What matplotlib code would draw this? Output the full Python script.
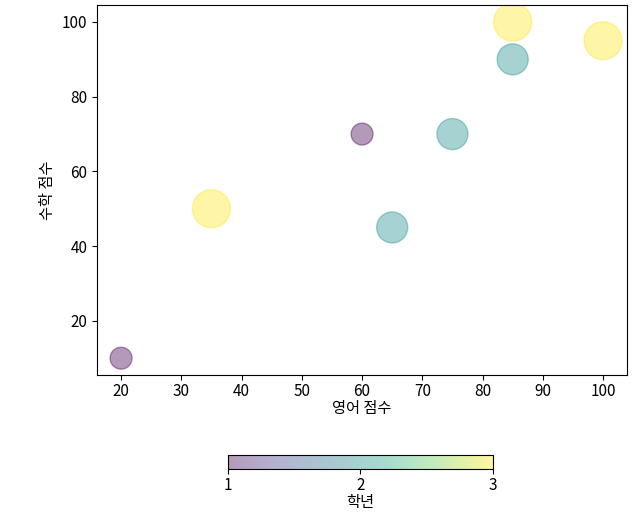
import matplotlib
matplotlib.use("Agg")
import matplotlib.pyplot as plt

plt.rcParams["font.family"] = ["Noto Sans CJK KR", "DejaVu Sans"]
plt.rcParams["font.size"] = 11
plt.rcParams["axes.unicode_minus"] = False

# 영어 점수, 수학 점수, 학년
english = [20, 35, 60, 65, 75, 85, 85, 100]
math = [10, 50, 70, 45, 70, 90, 100, 95]
grade = [1, 3, 1, 2, 2, 2, 3, 3]

fig = plt.figure(figsize=(6.38, 5.18), dpi=100)
ax = fig.add_axes([0.152, 0.276, 0.831, 0.714])
cax = fig.add_axes([0.357, 0.0946, 0.415, 0.027])

sizes = [g * 250 for g in grade]
sc = ax.scatter(english, math, s=sizes, c=grade, cmap="viridis", alpha=0.4)
ax.tick_params(axis="x", pad=2)
ax.set_xlabel("영어 점수", labelpad=0)
ax.set_ylabel("수학 점수")

cb = fig.colorbar(sc, cax=cax, orientation="horizontal", ticks=[1, 2, 3])
cb.ax.tick_params(pad=2)
cb.set_label("학년", labelpad=0)

fig.savefig("out.png", dpi=100)
